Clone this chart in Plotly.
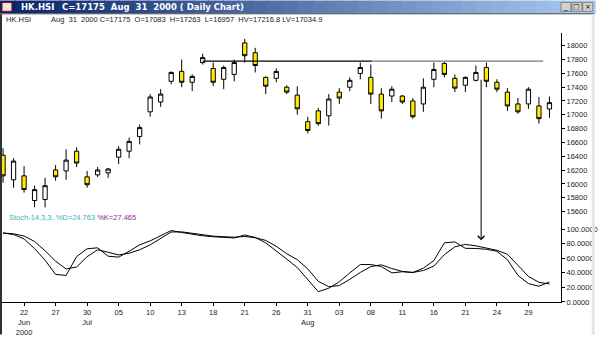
import plotly.graph_objects as go

# ---------------- data ----------------
open_ = [16416,16060,16117,15761,15775,16202,16188,16473,16103,16131,16160,16387,16473,16686,
         17042,17184,17483,17626,17469,17754,17668,17512,17583,18038,17896,17540,17526,17398,17284,
         16900,17056,16985,17327,17398,17597,17540,17298,17270,17270,17199,17156,17512,17740,17526,
         17426,17497,17683,17469,17327,17156,17156,17127,17083]
high = [16515,16373,16259,15975,16088,16273,16501,16530,16188,16245,16230,16544,16672,16857,
        17298,17369,17626,17796,17583,17882,17754,17711,17796,18095,17967,17554,17668,17426,17412,
        16971,17099,17298,17384,17540,17754,17725,17384,17412,17284,17241,17526,17754,17768,17583,
        17554,17711,17754,17512,17384,17241,17398,17256,17263]
low = [16017,15946,15875,15662,15662,16046,16060,16245,15946,16100,16088,16288,16373,16572,
       16971,17113,17440,17398,17341,17725,17412,17369,17483,17754,17611,17298,17469,17298,17000,
       16729,16843,16843,17156,17341,17512,17156,16943,17184,17156,16943,17042,17398,17540,17327,
       17327,17483,17398,17327,17056,17014,17085,16871,16957]
close = [16117,16330,15918,15918,15975,16103,16344,16302,15989,16202,16216,16501,16615,16814,
         17256,17298,17611,17469,17554,17825,17469,17683,17754,17853,17711,17412,17626,17327,17085,
         16772,16871,17227,17241,17497,17683,17298,17056,17369,17184,16971,17398,17654,17583,17384,
         17540,17611,17483,17369,17127,17042,17369,16943,17175]
stoch_k = [94.6,92.6,86.5,73.2,57.4,37.8,36.5,62.2,73.0,74.3,62.8,61.5,69.6,78.4,83.8,91.2,98.0,
           95.3,92.6,90.8,89.5,88.6,87.8,91.9,88.5,81.1,70.3,58.8,47.3,30.4,14.2,18.9,27.7,39.9,
           51.4,51.4,48.6,39.9,41.5,40.5,46.4,56.8,81.1,82.4,73.6,73.4,72.3,69.6,58.1,36.5,25.3,
           21.6,27.465]
stoch_d = [94.6,93.5,90.5,83.0,70.3,56.0,45.3,48.0,62.2,71.6,68.2,64.5,66.9,71.6,78.4,87.2,96.0,
           96.2,94.2,91.9,90.3,89.5,88.9,89.9,88.1,84.5,76.4,66.2,58.1,45.3,28.4,20.9,22.6,31.1,
           40.5,48.6,51.0,45.9,41.9,40.5,43.2,49.3,64.9,75.7,79.0,77.0,74.3,70.9,65.5,50.0,35.1,
           27.0,24.763]
tick_idx = [2,5,8,11,14,17,20,23,26,29,32,35,38,41,44,47,50]
tick_labels = ["22<br>Jun<br>2000","27","30<br>Jul","05","10","13","18","21","26",
               "31<br>Aug","03","08","11","16","21","24","29"]
price_ticks = list(range(15600, 18001, 200))
price_tick_labels = [str(v) for v in price_ticks]
stoch_ticks = [0, 20, 40, 60, 80, 100]
stoch_tick_labels = ["0.0000","20.0000","40.0000","60.0000","80.0000","100.0000"]
resist_level = 17775
resist_x_black = [19, 35.1]
resist_x_grey = [35.1, 51.4]
arrow_x = 45.5
arrow_y = 84.7

x = list(range(len(close)))

W, H = 600, 339
L, R, T, B = 2, 34, 33, 33
PW, PH = W - L - R, H - T - B
def px(v):  # pixel x -> paper
    return (v - L) / PW
def py(v):  # pixel y -> paper
    return (H - B - v) / PH

fig = go.Figure()
fig.add_trace(go.Candlestick(
    x=x, open=open_, high=high, low=low, close=close,
    increasing=dict(fillcolor="white", line=dict(color="black", width=1)),
    decreasing=dict(fillcolor="#ffee00", line=dict(color="black", width=1)),
    whiskerwidth=0, xaxis="x", yaxis="y", showlegend=False, hoverinfo="skip"))
fig.add_trace(go.Scatter(x=resist_x_black, y=[resist_level]*2, mode="lines",
                         line=dict(color="black", width=1.2), xaxis="x", yaxis="y", showlegend=False))
fig.add_trace(go.Scatter(x=resist_x_grey, y=[resist_level]*2, mode="lines",
                         line=dict(color="#777777", width=1.2), xaxis="x", yaxis="y", showlegend=False))
fig.add_trace(go.Scatter(x=x, y=stoch_k, mode="lines", line=dict(color="black", width=1),
                         xaxis="x", yaxis="y2", showlegend=False))
fig.add_trace(go.Scatter(x=x, y=stoch_d, mode="lines", line=dict(color="black", width=1),
                         xaxis="x", yaxis="y2", showlegend=False))

split = 0.285
font = "Liberation Sans, Arial, sans-serif"
fig.update_layout(
    width=W, height=H, margin=dict(l=L, r=R, t=T, b=B),
    paper_bgcolor="white", plot_bgcolor="white",
    font=dict(family=font, size=7.5, color="#222222"),
    boxgap=0.42,
    xaxis=dict(range=[-0.1, 53.1], tickvals=tick_idx, ticktext=tick_labels, tickangle=0,
               showgrid=False, zeroline=False, showline=True, linecolor="black", linewidth=1,
               ticks="outside", ticklen=3, tickcolor="black", rangeslider=dict(visible=False),
               anchor="y2", fixedrange=True),
    yaxis=dict(domain=[split, 1], range=[15402, 18181], side="right", tickvals=price_ticks,
               ticktext=price_tick_labels,
               showgrid=False, zeroline=False, showline=True, linecolor="black", linewidth=1,
               ticks="outside", ticklen=3, tickcolor="black", anchor="x"),
    yaxis2=dict(domain=[0, split], range=[0, (PH * split) / 0.74], side="right",
                tickvals=stoch_ticks, ticktext=stoch_tick_labels,
                showgrid=False, zeroline=False, showline=True, linecolor="black", linewidth=1,
                ticks="outside", ticklen=3, tickcolor="black", anchor="x"),
)

shapes = []
# title bar gradient
n = 40
c0, c1 = (10, 36, 106), (166, 202, 240)
for i in range(n):
    t = i / (n - 1)
    col = tuple(int(c0[k] + (c1[k] - c0[k]) * t) for k in range(3))
    shapes.append(dict(type="rect", xref="paper", yref="paper", layer="above",
                       x0=px(W * i / n), x1=px(W * (i + 1) / n + 1), y0=py(13), y1=py(0),
                       fillcolor="rgb(%d,%d,%d)" % col, line=dict(width=0)))
shapes.append(dict(type="line", xref="paper", yref="paper", x0=px(0), x1=px(W), y0=py(13.5), y1=py(13.5),
                   line=dict(color="#404040", width=1)))
# window buttons
for bx in (566, 577, 588):
    shapes.append(dict(type="rect", xref="paper", yref="paper", x0=px(bx), x1=px(bx + 10),
                       y0=py(11), y1=py(2), fillcolor="#d4d0c8", line=dict(color="#404040", width=0.5)))
# icon
shapes.append(dict(type="rect", xref="paper", yref="paper", x0=px(2), x1=px(12), y0=py(11), y1=py(2),
                   fillcolor="#e8e8e8", line=dict(color="#a00000", width=1)))
# left frame border
shapes.append(dict(type="line", xref="paper", yref="paper", x0=px(1), x1=px(1), y0=py(14), y1=py(H),
                   line=dict(color="#303030", width=2)))
# right frame strip
shapes.append(dict(type="rect", xref="paper", yref="paper", x0=px(597), x1=px(W), y0=py(14), y1=py(H),
                   fillcolor="#e4e4e4", line=dict(width=0)))
fig.update_layout(shapes=shapes)

ann = []
def txt(xp, yp, s, size=7.5, color="#222222", bold=False, fam=font):
    ann.append(dict(xref="paper", yref="paper", x=px(xp), y=py(yp), text=("<b>%s</b>" % s) if bold else s,
                    showarrow=False, xanchor="left", yanchor="middle",
                    font=dict(family=fam, size=size, color=color)))
txt(19, 6.5, "HK.HSI", size=8.5, color="white", bold=True, fam="DejaVu Sans")
txt(61, 6.5, "C=17175&nbsp;&nbsp;Aug&nbsp;&nbsp;31&nbsp;&nbsp;2000 ( Daily Chart)", size=8.5, color="white", bold=True, fam="DejaVu Sans")
txt(4, 19.5, "HK.HSI")
txt(49, 19.5, "Aug&nbsp;&nbsp;31&nbsp;&nbsp;2000 C=17175&nbsp;&nbsp;O=17083&nbsp;&nbsp;H=17263&nbsp;&nbsp;L=16957&nbsp;&nbsp;HV=17216.8 LV=17034.9")
ann.append(dict(xref="paper", yref="paper", x=px(7), y=py(220), xanchor="left", yanchor="middle", showarrow=False,
                text="<span style='color:#33b5b5'>Stoch-14,3,3. %D=24.763</span> <span style='color:#8e2a8e'>%K=27.465</span>",
                font=dict(family=font, size=7.5)))
for bx, s in zip((566, 577, 588), ("_", "□", "×")):
    ann.append(dict(xref="paper", yref="paper", x=px(bx + 5), y=py(6.5), text=s, showarrow=False,
                    xanchor="center", yanchor="middle", font=dict(family="DejaVu Sans", size=7, color="black")))
ann.append(dict(xref="x", yref="y2", x=arrow_x, y=arrow_y, ax=0, ay=-162, showarrow=True,
                arrowhead=4, arrowsize=1.3, arrowwidth=1, arrowcolor="black", text=""))
fig.update_layout(annotations=ann)

fig.write_html("out.html")
